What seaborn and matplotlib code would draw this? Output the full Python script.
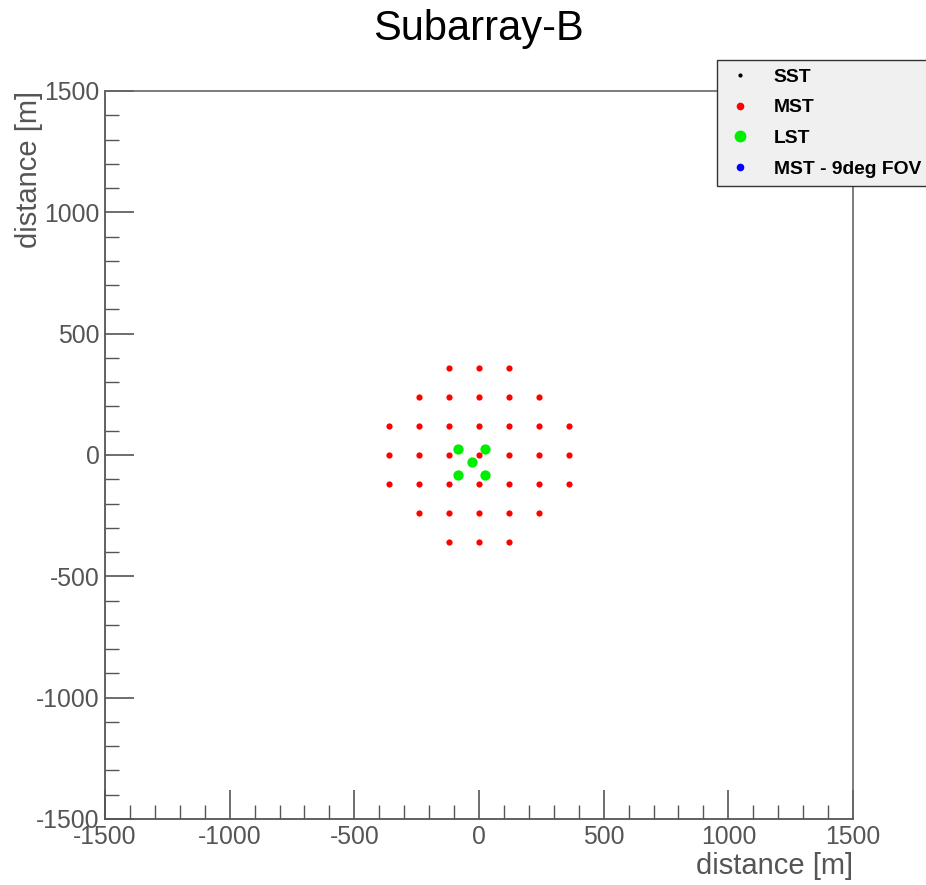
import numpy as np
import pandas as pd
import matplotlib
matplotlib.use("Agg")
import matplotlib.pyplot as plt
from matplotlib.lines import Line2D
from matplotlib.ticker import MultipleLocator
import seaborn as sns

# Telescope positions [m]
mst_x = [-120, 0, 120,
         -240, -120, 0, 120, 240,
         -360, -240, -120, 0, 120, 240, 360,
         -360, -240, -120, 0, 120, 240, 360,
         -360, -240, -120, 0, 120, 240, 360,
         -240, -120, 0, 120, 240,
         -120, 0, 120]
mst_y = [360, 360, 360,
         240, 240, 240, 240, 240,
         120, 120, 120, 120, 120, 120, 120,
         0, 0, 0, 0, 0, 0, 0,
         -120, -120, -120, -120, -120, -120, -120,
         -240, -240, -240, -240, -240,
         -360, -360, -360]
lst_x = [-83, 22, -30, -83, 22]
lst_y = [23, 23, -30, -84, -84]

legend_labels = ["SST", "MST", "LST", "MST - 9deg FOV"]
legend_colors = ["black", "#ff0000", "#00ee00", "#0000ff"]

mst = pd.DataFrame({"x": mst_x, "y": mst_y})
lst = pd.DataFrame({"x": lst_x, "y": lst_y})

sns.set_style("white")
plt.rcParams["font.family"] = ["Liberation Sans", "DejaVu Sans"]
plt.rcParams["axes.unicode_minus"] = False

fig = plt.figure(figsize=(9.26, 8.85), dpi=100)
ax = fig.add_axes([0.1134, 0.0746, 0.8078, 0.8226])

sns.scatterplot(data=mst, x="x", y="y", ax=ax, color="#ff0000", s=20,
                linewidth=0, zorder=3)
sns.scatterplot(data=lst, x="x", y="y", ax=ax, color="#00ee00", s=55,
                linewidth=0, zorder=4)

ax.set_xlim(-1500, 1500)
ax.set_ylim(-1500, 1500)
ax.xaxis.set_major_locator(MultipleLocator(500))
ax.xaxis.set_minor_locator(MultipleLocator(100))
ax.yaxis.set_major_locator(MultipleLocator(500))
ax.yaxis.set_minor_locator(MultipleLocator(100))

gray = "#555555"
ax.tick_params(which="both", direction="in", colors=gray, labelsize=17.8,
               bottom=True, left=True, top=False, right=False)
ax.tick_params(which="major", length=21, width=1.2, pad=4)
ax.tick_params(which="minor", length=10, width=1.0)
ax.tick_params(axis="x", which="major", pad=4)
for side in ["left", "bottom"]:
    ax.spines[side].set_color(gray)
    ax.spines[side].set_linewidth(1.3)
for side in ["top", "right"]:
    ax.spines[side].set_color("#666666")
    ax.spines[side].set_linewidth(1.2)

ax.set_xlabel("distance [m]", fontsize=21, color=gray, ha="right", va="top")
ax.xaxis.set_label_coords(1.0, -0.046)
ax.set_ylabel("distance [m]", fontsize=21, color=gray, ha="right", va="bottom")
ax.yaxis.set_label_coords(-0.083, 1.0)
fig.suptitle("Subarray-B", x=0.517, y=0.99, fontsize=30, va="top",
             color="black")

handles = [
    Line2D([], [], ls="", marker="o", color=legend_colors[0], markersize=2),
    Line2D([], [], ls="", marker="o", color=legend_colors[1], markersize=4.5),
    Line2D([], [], ls="", marker="o", color=legend_colors[2], markersize=7.5),
    Line2D([], [], ls="", marker="o", color=legend_colors[3], markersize=4.5),
]
leg = fig.legend(handles, legend_labels, loc="upper left",
                 bbox_to_anchor=(0.7745, 0.932), borderaxespad=0,
                 frameon=True, fancybox=False, framealpha=1,
                 facecolor="#f0f0f0", edgecolor="#333333",
                 prop={"weight": "bold", "size": 13.9},
                 labelspacing=0.68, handletextpad=1.0, borderpad=0.42,
                 handlelength=1.5)
leg.get_frame().set_linewidth(1.0)
for t in leg.get_texts():
    t.set_color("black")

fig.savefig("out.png", dpi=100)
